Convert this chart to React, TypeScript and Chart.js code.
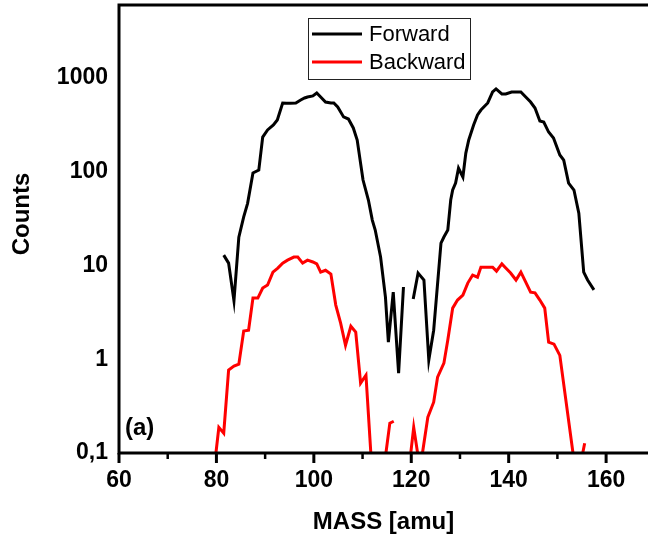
import React, { useEffect, useRef } from 'react';
import { Chart, registerables } from 'chart.js';

Chart.register(...registerables);

// ---- data ----
const forwardMass = [
  81.5, 82.5, 83.6, 84.6, 85.6, 86.4, 87.5, 88.7, 89.5, 90.5,
  91.7, 92.5, 93.6, 94.4, 95.2, 96.3, 97.3, 98.1, 98.7, 99.8,
  100.6, 101.4, 102.4, 103.5, 104.1, 104.9, 106.1, 107.1, 108.1, 108.9,
  109.5, 110.1, 111.2, 112.0, 112.6, 113.7, 114.7, 115.3, 116.3, 117.4,
  118.4, 119.4, 120.4, 121.4, 122.6, 123.6, 124.6, 126.1, 126.7, 127.5,
  128.1, 128.5, 129.1, 129.7, 130.6, 131.2, 131.8, 132.8, 133.6, 134.3,
  135.7, 136.7, 137.4, 138.6, 139.4, 140.6, 142.5, 143.5, 144.5, 145.4,
  146.4, 147.2, 148.2, 149.2, 150.5, 151.3, 152.3, 153.4, 154.4, 155.4,
  156.2, 157.5,
];
const forwardCounts: (number | null)[] = [
  12.9, 10.6, 4.2, 20, 33, 46, 97, 104, 234, 279,
  315, 356, 541, 537, 537, 541, 582, 612, 627, 643,
  692, 627, 554, 541, 541, 490, 384, 365, 293, 218,
  133, 81.5, 49.9, 30.5, 23.9, 12.3, 4.6, 1.52, 5.2, 0.71,
  5.9, null, 4.4, 8.3, 7.0, 0.98, 2.04, 17.3, 20.1, 23.9,
  49.9, 63.8, 75.7, 109, 87.8, 158, 218, 315, 403, 455,
  541, 709, 763, 675, 675, 709, 709, 627, 554, 478,
  348, 339, 265, 229, 151, 133, 75.7, 63.8, 36.2, 8.5,
  7.0, 5.5,
];

const backwardMass = [
  79.9, 80.5, 81.5, 82.5, 83.6, 84.6, 85.6, 86.6, 87.5, 88.5,
  89.5, 90.5, 91.6, 92.6, 93.6, 94.6, 95.9, 96.7, 97.7, 98.7,
  99.8, 100.6, 101.4, 102.4, 103.5, 104.5, 105.5, 106.5, 107.6, 108.6,
  109.6, 110.7, 111.7, 113.0, 114.8, 115.6, 116.4, 118.0, 119.9, 120.5,
  121.3, 121.8, 122.3, 123.4, 124.6, 125.4, 126.7, 127.5, 128.5, 129.5,
  130.6, 131.6, 132.6, 133.6, 134.3, 135.3, 136.7, 137.5, 138.6, 139.4,
  140.4, 141.5, 142.5, 143.5, 144.5, 145.4, 146.4, 147.4, 148.2, 149.3,
  150.5, 153.2, 154.0, 155.2, 155.6,
];
const backwardCounts: (number | null)[] = [
  0.1, 0.188, 0.163, 0.766, 0.844, 0.887, 2.0, 2.04, 4.49, 4.49,
  5.74, 6.18, 8.5, 9.38, 10.6, 11.4, 12.3, 12.3, 10.6, 11.4,
  10.9, 10.4, 8.5, 8.9, 8.1, 3.78, 2.43, 1.41, 2.25, 1.95,
  0.556, 0.676, 0.1, null, 0.1, 0.208, 0.218, null, 0.1, 0.188,
  0.1, null, 0.1, 0.241, 0.348, 0.644, 0.908, 1.6, 3.51, 4.28,
  4.83, 6.49, 7.9, 7.5, 9.6, 9.6, 9.6, 8.7, 10.4, 9.4,
  8.3, 7.0, 8.5, 6.65, 5.2, 5.1, 4.28, 3.51, 1.52, 1.45,
  1.1, 0.1, null, 0.1, 0.127,
];

const seriesNames = ['Forward', 'Backward'];
const seriesColors = ['#000000', '#ff0000'];
const xTicks = [60, 70, 80, 90, 100, 110, 120, 130, 140, 150, 160];
const xLabeled = [60, 80, 100, 120, 140, 160];
const yTicks = [0.1, 1, 10, 100, 1000];
const yTickLabels = ['0,1', '1', '10', '100', '1000'];
const xTitle = 'MASS [amu]';
const yTitle = 'Counts';
const panelLabel = '(a)';

const FONT = '"Liberation Sans", Arial, Helvetica, sans-serif';

const decorPlugin = {
  id: 'decor',
  afterDraw(chart: any) {
    const { ctx, chartArea: a, scales } = chart;
    const xs = scales.x;
    ctx.save();
    ctx.strokeStyle = '#000';
    ctx.lineCap = 'butt';
    // frame: left, bottom, top
    ctx.lineWidth = 3;
    ctx.beginPath();
    ctx.moveTo(a.left, a.top - 1.5);
    ctx.lineTo(a.left, a.bottom);
    ctx.moveTo(a.left - 1.5, a.bottom);
    ctx.lineTo(a.right, a.bottom);
    ctx.moveTo(a.left - 1.5, a.top);
    ctx.lineTo(a.right, a.top);
    ctx.stroke();
    // x ticks
    xTicks.forEach((v) => {
      const px = xs.getPixelForValue(v);
      const major = xLabeled.includes(v);
      ctx.lineWidth = major ? 3 : 2.5;
      ctx.beginPath();
      ctx.moveTo(px, a.bottom);
      ctx.lineTo(px, a.bottom + (major ? 10 : 6));
      ctx.stroke();
    });
    // axis titles
    ctx.fillStyle = '#000';
    ctx.font = `bold 24px ${FONT}`;
    ctx.textAlign = 'center';
    ctx.textBaseline = 'middle';
    ctx.fillText(xTitle, (a.left + a.right) / 2, a.bottom + 69);
    ctx.save();
    ctx.translate(22, 214);
    ctx.rotate(-Math.PI / 2);
    ctx.fillText(yTitle, 0, 0);
    ctx.restore();
    // panel label
    ctx.textAlign = 'left';
    ctx.fillText(panelLabel, a.left + 6, a.bottom - 25);
    // legend
    const bx = 308.5, by = 18.5, bw = 162, bh = 61;
    ctx.fillStyle = '#fff';
    ctx.fillRect(bx, by, bw, bh);
    ctx.strokeStyle = '#222';
    ctx.lineWidth = 1;
    ctx.strokeRect(bx, by, bw, bh);
    ctx.font = `22px ${FONT}`;
    seriesNames.forEach((name, i) => {
      const y = 34 + i * 28;
      ctx.strokeStyle = seriesColors[i];
      ctx.lineWidth = 3;
      ctx.beginPath();
      ctx.moveTo(312, y);
      ctx.lineTo(362, y);
      ctx.stroke();
      ctx.fillStyle = '#000';
      ctx.fillText(name, 369, y + 1);
    });
    ctx.restore();
  },
};

export default function App() {
  const ref = useRef<HTMLCanvasElement>(null);
  useEffect(() => {
    document.body.style.margin = '0';
    const canvas = ref.current!;
    const chart = new Chart(canvas, {
      type: 'line',
      data: {
        datasets: [
          {
            label: seriesNames[0],
            data: forwardMass.map((m, i) => ({ x: m, y: forwardCounts[i] })) as any,
            borderColor: seriesColors[0],
            borderWidth: 3,
            pointRadius: 0,
            tension: 0,
            spanGaps: false,
          },
          {
            label: seriesNames[1],
            data: backwardMass.map((m, i) => ({ x: m, y: backwardCounts[i] })) as any,
            borderColor: seriesColors[1],
            borderWidth: 3,
            pointRadius: 0,
            tension: 0,
            spanGaps: false,
          },
        ],
      },
      options: {
        responsive: false,
        devicePixelRatio: 1,
        animation: false,
        layout: { padding: { top: 5, left: 0, right: 0, bottom: 0 } },
        plugins: { legend: { display: false }, tooltip: { enabled: false } },
        scales: {
          x: {
            type: 'linear',
            min: 60,
            max: 168.6,
            grid: { display: false, drawTicks: false },
            border: { display: false },
            afterBuildTicks: (s: any) => {
              s.ticks = xTicks.map((v) => ({ value: v }));
            },
            afterFit: (s: any) => {
              s.height = 85;
              s.paddingLeft = 0;
              s.paddingRight = 0;
            },
            ticks: {
              autoSkip: false,
              maxRotation: 0,
              padding: 14,
              color: '#000',
              font: { family: FONT, size: 23, weight: 'bold' },
              callback: (v: any) => (xLabeled.includes(Number(v)) ? String(v) : ''),
            },
          },
          y: {
            type: 'logarithmic',
            min: 0.1,
            max: 6000,
            grid: { display: false, drawTicks: false },
            border: { display: false },
            afterBuildTicks: (s: any) => {
              s.ticks = yTicks.map((v) => ({ value: v }));
            },
            afterFit: (s: any) => {
              s.width = 119;
              s.paddingTop = 0;
              s.paddingBottom = 0;
            },
            ticks: {
              autoSkip: false,
              padding: 11,
              color: '#000',
              font: { family: FONT, size: 23, weight: 'bold' },
              callback: (_v: any, i: number) => yTickLabels[i],
            },
          },
        },
      } as any,
      plugins: [decorPlugin],
    });
    return () => chart.destroy();
  }, []);
  return <canvas ref={ref} width={648} height={538} style={{ display: 'block' }} />;
}
